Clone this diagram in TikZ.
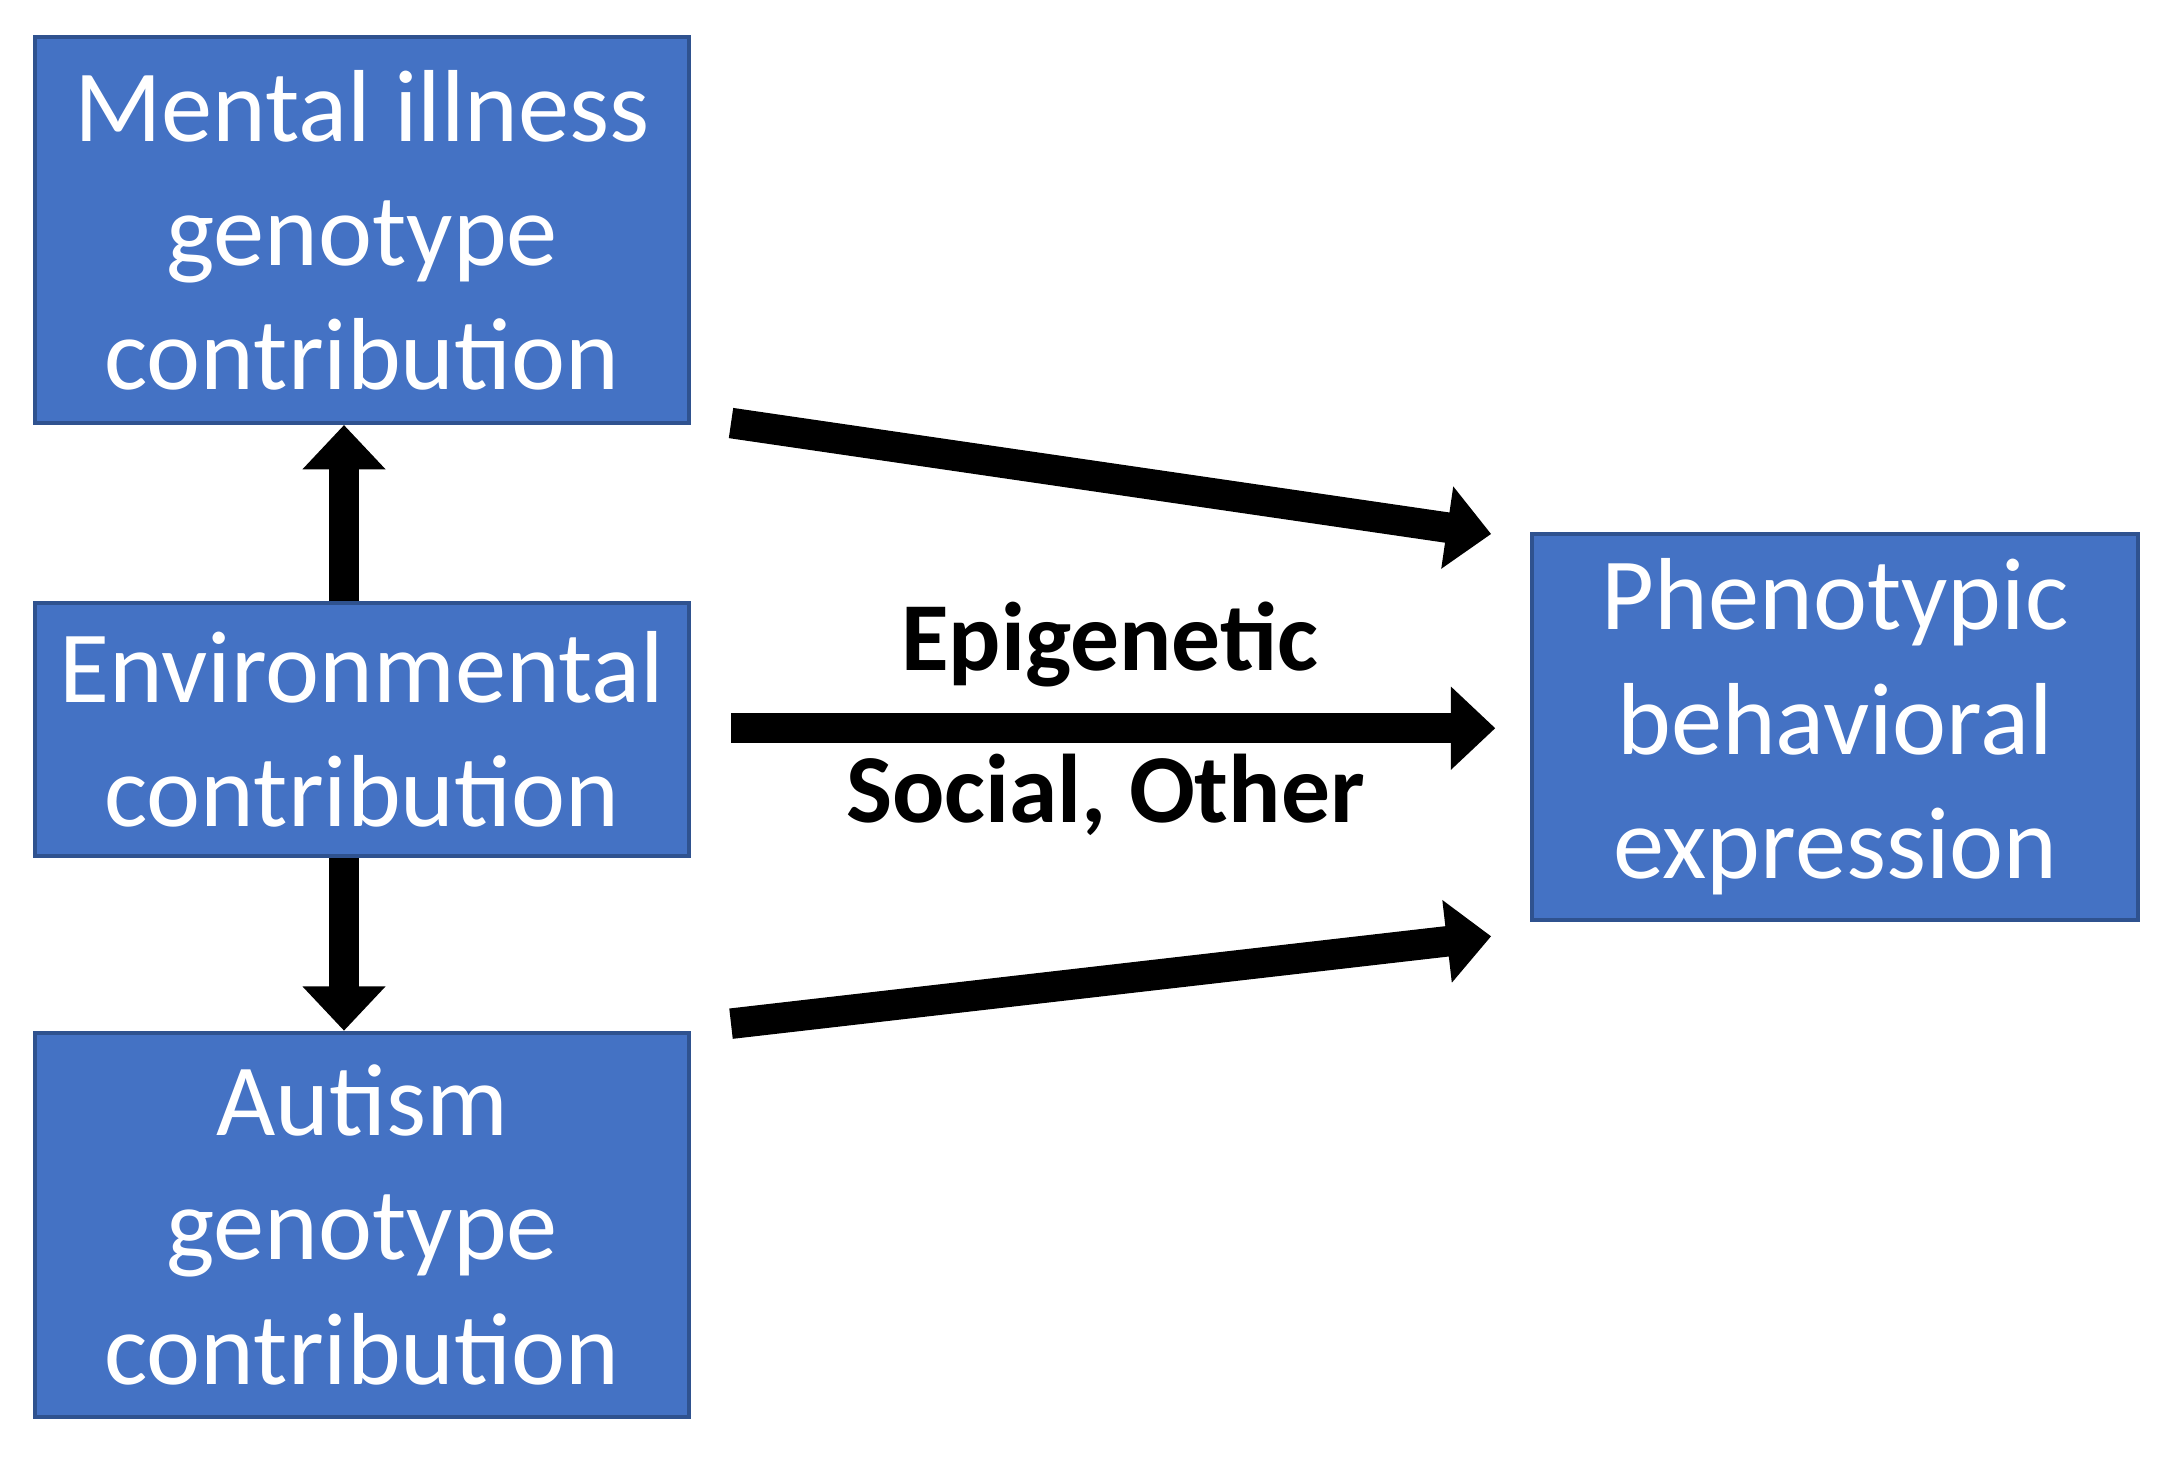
\documentclass[tikz,border=0pt]{standalone}
\usepackage{fontspec}
\setmainfont{Carlito}
\usetikzlibrary{arrows.meta,calc}
\definecolor{boxblue}{HTML}{4472C4}
\definecolor{boxline}{HTML}{2F528F}
\begin{document}
\begin{tikzpicture}[>={Triangle[length=0.32cm,width=0.58cm]},
      box/.style={rectangle,draw=boxline,fill=boxblue,line width=0.8pt,
        text=white,align=center,inner sep=0pt,
        font=\fontsize{21}{25.5}\selectfont},
      flow/.style={->,line width=0.22cm},
      lbl/.style={font=\fontsize{20}{24}\selectfont\bfseries}]
      \useasboundingbox (0,0) rectangle (15.68,10.52);

      \node[box,minimum width=4.72cm,minimum height=2.78cm] (mental) at (2.61,8.86) {Mental illness\\genotype\\contribution};
      \node[box,minimum width=4.72cm,minimum height=1.82cm] (env) at (2.61,5.26) {Environmental\\contribution};
      \node[box,minimum width=4.72cm,minimum height=2.77cm] (autism) at (2.61,1.69) {Autism\\genotype\\contribution};
      \node[box,minimum width=4.37cm,minimum height=2.78cm] (pheno) at (13.23,5.28) {Phenotypic\\behavioral\\expression};

      \coordinate (t1) at (5.27,7.47);
      \coordinate (t2) at (10.75,6.67);
      \coordinate (m1) at (5.27,5.27);
      \coordinate (m2) at (10.78,5.27);
      \coordinate (b1) at (5.27,3.14);
      \coordinate (b2) at (10.75,3.77);

      % connectors
      \draw[flow] ([xshift=-0.13cm]env.north) -- ([xshift=-0.13cm]mental.south);
      \draw[flow] ([xshift=-0.13cm]env.south) -- ([xshift=-0.13cm]autism.north);
      \draw[flow] (t1) -- (t2);
      \draw[flow] (m1) -- (m2);
      \draw[flow] (b1) -- (b2);

      \node[lbl] (epi) at (8.0,5.87) {Epigenetic};
      \node[lbl] (soc) at (7.97,4.79) {Social, Other};
\end{tikzpicture}
\end{document}
